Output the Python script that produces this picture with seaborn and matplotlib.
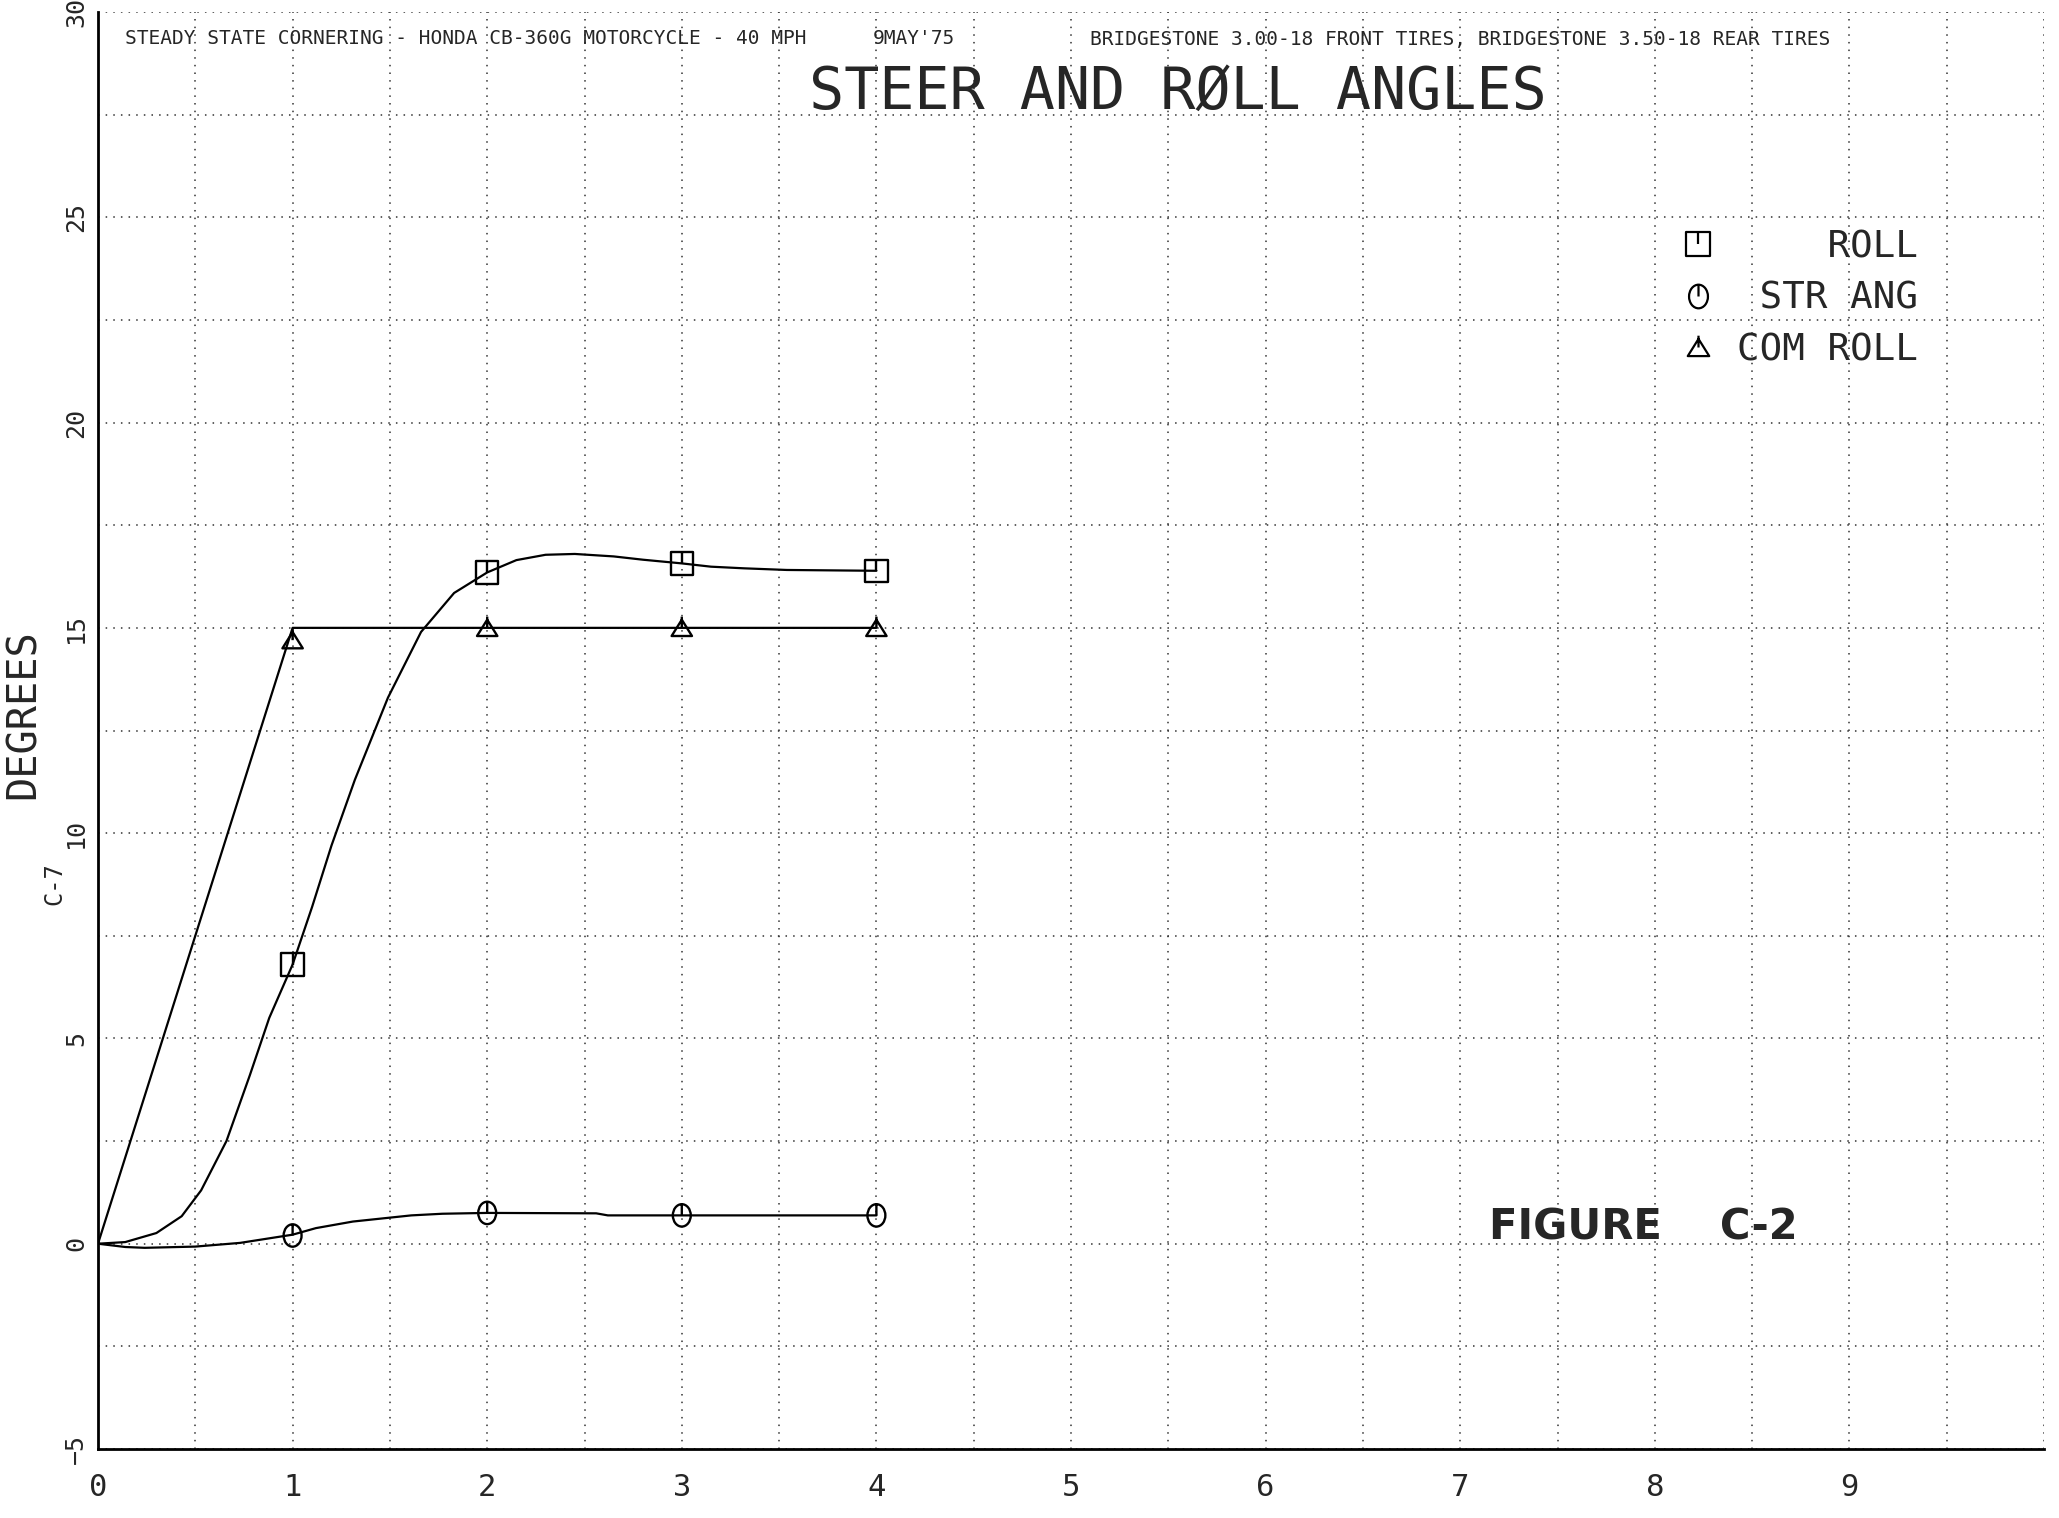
import matplotlib
matplotlib.use("Agg")
import matplotlib.pyplot as plt
from matplotlib.path import Path
from matplotlib.lines import Line2D
from matplotlib.ticker import MultipleLocator
import numpy as np
import seaborn as sns

# values (time in seconds, angles in degrees)
roll_t = [0, 0.14, 0.30, 0.43, 0.53, 0.66, 0.78, 0.88, 1.0, 1.1, 1.2, 1.32, 1.49, 1.66, 1.83,
          2.0, 2.15, 2.3, 2.45, 2.65, 2.8, 3.0, 3.15, 3.32, 3.54, 4.0]
roll_deg = [0, 0.04, 0.26, 0.67, 1.3, 2.5, 4.1, 5.5, 6.8, 8.2, 9.7, 11.3, 13.3, 14.9, 15.85,
            16.35, 16.65, 16.78, 16.8, 16.74, 16.66, 16.57, 16.49, 16.45, 16.41, 16.39]
roll_mark_t = [1, 2, 3, 4]
roll_mark_deg = [6.8, 16.35, 16.57, 16.39]

str_t = [0, 0.14, 0.24, 0.5, 0.73, 1.0, 1.12, 1.31, 1.61, 1.77, 2.0, 2.56, 2.62, 3.0, 4.0]
str_deg = [0, -0.08, -0.1, -0.07, 0.02, 0.22, 0.38, 0.54, 0.69, 0.73, 0.75, 0.74, 0.69, 0.69, 0.69]
str_mark_t = [1, 2, 3, 4]
str_mark_deg = [0.2, 0.75, 0.69, 0.69]

com_t = [0, 1, 2, 3, 4]
com_deg = [0, 15, 15, 15, 15]
com_mark_t = [1, 2, 3, 4]
com_mark_deg = [14.7, 15, 15, 15]

x_ticks = list(range(10))
y_ticks = list(range(-5, 31, 5))
legend_labels = ["ROLL", "STR ANG", "COM ROLL"]

header_left = "STEADY STATE CORNERING - HONDA CB-360G MOTORCYCLE - 40 MPH"
header_date = "9MAY'75"
header_right = "BRIDGESTONE 3.00-18 FRONT TIRES, BRIDGESTONE 3.50-18 REAR TIRES"
title = "STEER AND RØLL ANGLES"

sns.set_style("white")
plt.rcParams["font.family"] = ["DejaVu Sans Mono", "DejaVu Sans"]

# plotter style symbols: outline with a small stem
stem = Path([(0, 1), (0, 0)])
sq = Path([(-1, -1), (1, -1), (1, 1), (-1, 1), (-1, -1)], closed=True)
circ = Path.unit_circle()
circ = Path(circ.vertices * [0.8, 1.0], circ.codes)
tri = Path([(-1, -0.8), (1, -0.8), (0, 0.8), (-1, -0.8)], closed=True)
m_roll = Path.make_compound_path(sq, stem)
m_str = Path.make_compound_path(circ, stem)
m_com = Path.make_compound_path(tri, Path([(0, 1.1), (0, 0)]))

fig = plt.figure(figsize=(20.59, 15.18), dpi=100)
ax = fig.add_axes([98 / 2059, 1 - 1449 / 1518, 1946 / 2059, 1437 / 1518])

for t, d in [(roll_t, roll_deg), (str_t, str_deg), (com_t, com_deg)]:
    sns.lineplot(x=t, y=d, ax=ax, color="black", lw=1.6, estimator=None, sort=False)

for t, d, m in [(roll_mark_t, roll_mark_deg, m_roll), (str_mark_t, str_mark_deg, m_str),
                (com_mark_t, com_mark_deg, m_com)]:
    sns.scatterplot(x=t, y=d, ax=ax, marker=m, s=260, color="black",
                    facecolor="none", edgecolor="black", linewidth=1.7, zorder=5)

ax.set_xlim(0, 10)
ax.set_ylim(-5, 30)
ax.set_xticks(x_ticks)
ax.set_yticks(y_ticks)
ax.xaxis.set_minor_locator(MultipleLocator(0.5))
ax.yaxis.set_minor_locator(MultipleLocator(2.5))
ax.grid(which="both", color="0.2", lw=1.1, ls=(0, (1, 4)))
ax.set_axisbelow(True)
for s in ["top", "right"]:
    ax.spines[s].set_visible(False)
for s in ["left", "bottom"]:
    ax.spines[s].set_color("black")
    ax.spines[s].set_linewidth(2)
ax.tick_params(axis="x", which="major", direction="out", length=11, width=1.5,
               labelsize=22, pad=6, color="black")
ax.tick_params(axis="y", which="major", direction="out", length=6, width=1.5,
               labelsize=18, pad=1, labelrotation=90, color="black")
ax.tick_params(which="minor", length=0)
for lab in ax.get_yticklabels():
    lab.set_va("center")

# legend with right aligned labels (monospace padding)
handles = [Line2D([], [], ls="none", marker=m, ms=17, mfc="none", mec="black", mew=1.6)
           for m in [m_roll, m_str, m_com]]
w = max(len(s) for s in legend_labels)
ax.legend(handles, [s.rjust(w) for s in legend_labels], loc="upper left",
          bbox_to_anchor=(1679 / 2059, 1 - 229 / 1518), bbox_transform=fig.transFigure,
          frameon=False, fontsize=27, handlelength=1.0, handletextpad=0.55,
          borderpad=0, borderaxespad=0, labelspacing=0.42)

fig.text(125 / 2059, 1 - 39 / 1518, header_left, fontsize=14, ha="left", va="center")
fig.text(873 / 2059, 1 - 39 / 1518, header_date, fontsize=14, ha="left", va="center")
fig.text(1090 / 2059, 1 - 39 / 1518, header_right, fontsize=14, ha="left", va="center")
fig.text(1178 / 2059, 1 - 92 / 1518, title, fontsize=42, ha="center", va="center")

fig.text(24 / 2059, 1 - 714 / 1518, "DEGREES", fontsize=29, rotation=90, ha="center", va="center")
fig.text(54 / 2059, 1 - 884 / 1518, "C-7", fontsize=17, rotation=90, ha="center", va="center")

ax.text(7.15, 0.4, "FIGURE    C-2", fontsize=30, fontweight="bold", family="DejaVu Sans",
        ha="left", va="center")

fig.savefig("out.png", dpi=100)
